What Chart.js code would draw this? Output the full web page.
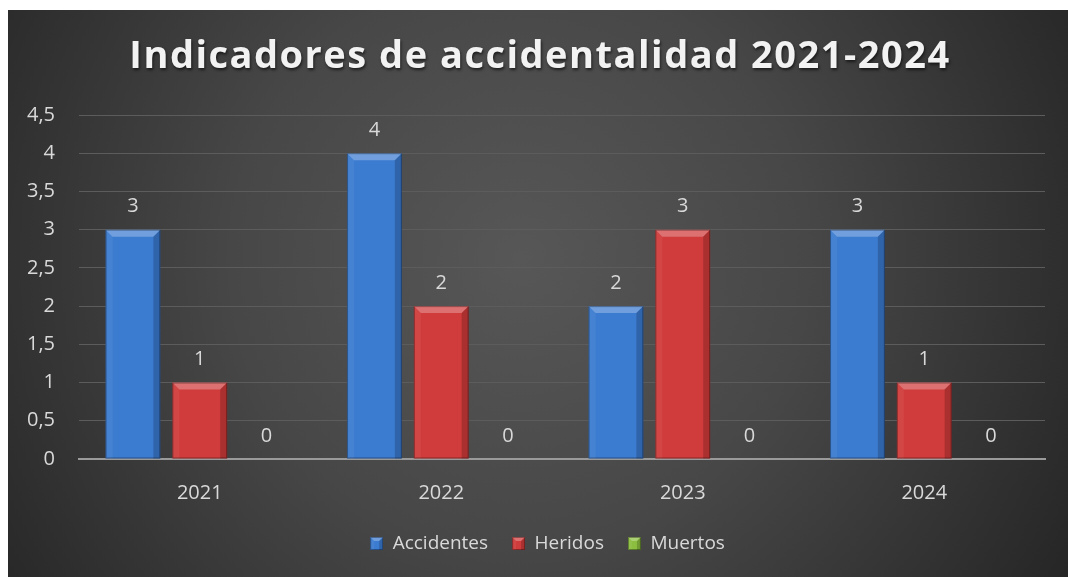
<!DOCTYPE html>
<html lang="es">
<head>
    <meta charset="UTF-8">
    <title>Indicadores de accidentalidad 2021-2024</title>
    <script src="https://cdn.jsdelivr.net/npm/chart.js"></script>
    <style>
        html, body { margin: 0; padding: 0; background: #fff; }
        #wrap { width: 1068px; height: 577px; }
    </style>
</head>
<body>
    <div id="wrap"><canvas id="chart" width="1068" height="577"></canvas></div>
    <script>
        const chartTitle = 'Indicadores de accidentalidad 2021-2024';
        const years = ['2021', '2022', '2023', '2024'];
        const accidentes = [3, 4, 2, 3];
        const heridos = [1, 2, 3, 1];
        const muertos = [0, 0, 0, 0];
        const seriesNames = ['Accidentes', 'Heridos', 'Muertos'];
        const seriesColors = ['#3b7bd0', '#d03b3b', '#8cbf3f'];

        const textColor = '#d9d9d9';
        const font = 'Open Sans, Calibri, sans-serif';

        // dark background with a soft light spot in the middle
        const backgroundPlugin = {
            id: 'bg',
            beforeDraw(chart) {
                const ctx = chart.ctx;
                const g = ctx.createRadialGradient(520, 260, 0, 520, 260, 640);
                g.addColorStop(0, '#575757');
                g.addColorStop(0.45, '#474747');
                g.addColorStop(1, '#252525');
                ctx.save();
                ctx.fillStyle = g;
                ctx.fillRect(8, 10, chart.width - 8, chart.height - 10);
                ctx.restore();
            }
        };

        // title drawn by hand so it can get letter spacing and a shadow
        const titlePlugin = {
            id: 'spacedTitle',
            afterDraw(chart) {
                const ctx = chart.ctx;
                ctx.save();
                ctx.font = 'bold 38px ' + font;
                ctx.letterSpacing = '1.5px';
                ctx.textAlign = 'center';
                ctx.textBaseline = 'middle';
                ctx.shadowColor = 'rgba(0,0,0,0.6)';
                ctx.shadowOffsetX = 1;
                ctx.shadowOffsetY = 2;
                ctx.shadowBlur = 3;
                ctx.fillStyle = '#f2f2f2';
                ctx.fillText(chartTitle, 540, 57);
                ctx.restore();
            }
        };

        // legend sits a bit right of the plot centre in the original
        const legendShift = {
            id: 'legendShift',
            afterLayout(chart) {
                chart.legend.left += 21;
                chart.legend.right += 21;
            }
        };

        function poly(ctx, pts, color) {
            ctx.beginPath();
            ctx.moveTo(pts[0][0], pts[0][1]);
            for (let i = 1; i < pts.length; i++) ctx.lineTo(pts[i][0], pts[i][1]);
            ctx.closePath();
            ctx.fillStyle = color;
            ctx.fill();
        }

        function bevel(ctx, l, t, r, b, d) {
            poly(ctx, [[l, t], [r, t], [r - d, t + d], [l + d, t + d]], 'rgba(255,255,255,0.28)');
            poly(ctx, [[l, t], [l + d, t + d], [l + d, b], [l, b]], 'rgba(255,255,255,0.06)');
            poly(ctx, [[r, t], [r, b], [r - d, b], [r - d, t + d]], 'rgba(0,0,0,0.18)');
            ctx.strokeStyle = 'rgba(0,0,0,0.35)';
            ctx.lineWidth = 1;
            ctx.strokeRect(l + 0.5, t + 0.5, r - l - 1, b - t - 1);
        }

        // bevelled look of the bars + value labels
        const barPlugin = {
            id: 'bars',
            afterDatasetsDraw(chart) {
                const ctx = chart.ctx;
                ctx.save();
                chart.data.datasets.forEach((ds, i) => {
                    const meta = chart.getDatasetMeta(i);
                    meta.data.forEach((bar, j) => {
                        const h = bar.base - bar.y;
                        const l = bar.x - bar.width / 2, r = bar.x + bar.width / 2;
                        if (h > 1) bevel(ctx, l, bar.y, r, bar.base, Math.min(7, h / 2));
                        ctx.fillStyle = textColor;
                        ctx.font = '20px ' + font;
                        ctx.textAlign = 'center';
                        ctx.textBaseline = 'middle';
                        ctx.fillText(String(ds.data[j]), bar.x, bar.y - 23);
                    });
                });
                ctx.restore();
            }
        };

        function legendBox(color) {
            const c = document.createElement('canvas');
            c.width = 13; c.height = 13;
            const x = c.getContext('2d');
            x.fillStyle = color;
            x.fillRect(0, 0, 13, 13);
            bevel(x, 0, 0, 13, 13, 4);
            return c;
        }

        const datasets = [accidentes, heridos, muertos].map((d, i) => ({
            label: seriesNames[i],
            data: d,
            backgroundColor: seriesColors[i],
            borderWidth: 0,
            pointStyle: legendBox(seriesColors[i]),
            categoryPercentage: 0.83,
            barPercentage: 0.82
        }));

        new Chart(document.getElementById('chart'), {
            type: 'bar',
            data: { labels: years, datasets: datasets },
            plugins: [backgroundPlugin, barPlugin, titlePlugin, legendShift],
            options: {
                responsive: false,
                animation: false,
                layout: { padding: { left: 8, right: 23, top: 115, bottom: 14 } },
                plugins: {
                    title: { display: false },
                    legend: {
                        position: 'bottom',
                        labels: {
                            color: textColor,
                            font: { family: font, size: 19 },
                            usePointStyle: true,
                            boxWidth: 13,
                            boxHeight: 13,
                            padding: 24
                        }
                    },
                    tooltip: { enabled: false }
                },
                scales: {
                    x: {
                        afterFit(scale) { scale.height = 51; },
                        grid: { display: false },
                        border: { color: '#9a9a9a', width: 2 },
                        ticks: { color: textColor, font: { family: font, size: 20 }, padding: 14 }
                    },
                    y: {
                        min: 0,
                        max: 4.5,
                        afterFit(scale) { scale.width = 71; },
                        grid: { color: '#5c5c5c', lineWidth: 1, drawTicks: false },
                        border: { display: false },
                        ticks: {
                            stepSize: 0.5,
                            color: textColor,
                            font: { family: font, size: 20 },
                            padding: 24,
                            callback: v => String(v).replace('.', ',')
                        }
                    }
                }
            }
        });
    </script>
</body>
</html>
